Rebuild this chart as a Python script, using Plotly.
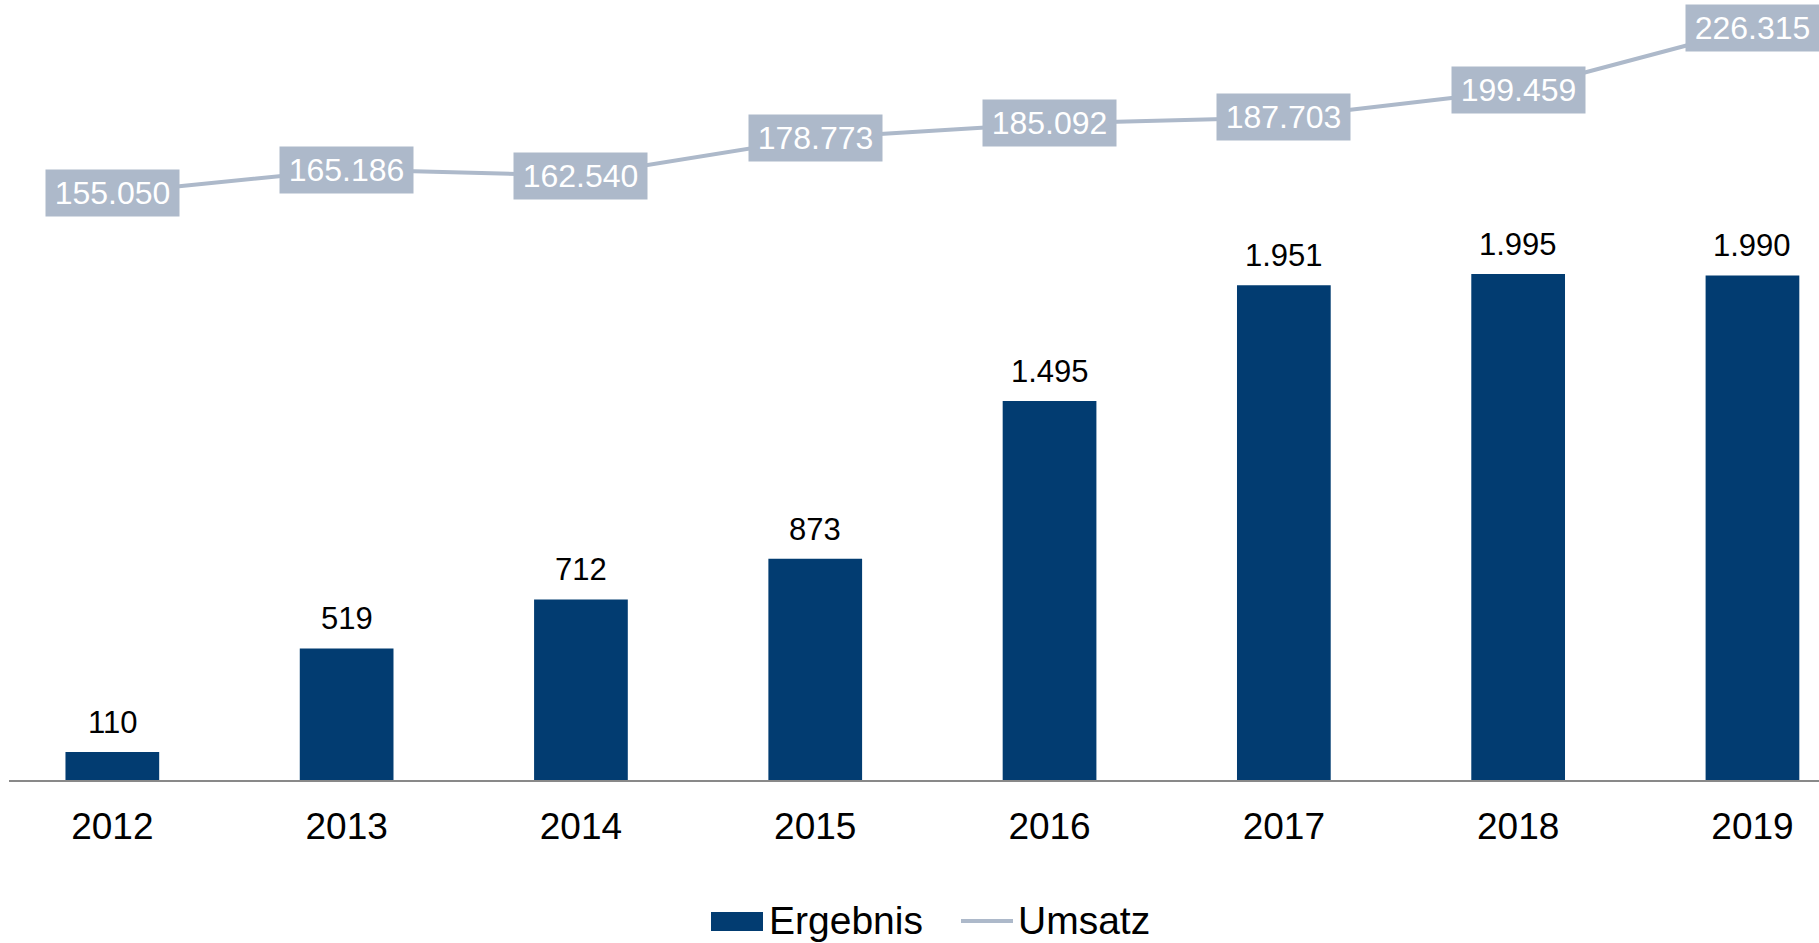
import plotly.graph_objects as go

years = ["2012", "2013", "2014", "2015", "2016", "2017", "2018", "2019"]
ergebnis = [110, 519, 712, 873, 1495, 1951, 1995, 1990]
umsatz = [155050, 165186, 162540, 178773, 185092, 187703, 199459, 226315]

def fmt_de(v):
    return f"{v:,}".replace(",", ".")

BAR_COLOR = "#023C71"
LINE_COLOR = "#ADB9CA"
FONT = "Liberation Sans, Arial, sans-serif"

W, H = 1819, 943
L, R, T, B = 9, 0, 0, 163
PW, PH = W - L - R, H - T - B

fig = go.Figure()
fig.add_trace(go.Bar(
    x=years, y=ergebnis, name="Ergebnis", marker=dict(color=BAR_COLOR, line=dict(width=0)),
    width=0.4, showlegend=False, hoverinfo="x+y",
))
fig.add_trace(go.Scatter(
    x=years, y=umsatz, name="Umsatz", mode="lines", yaxis="y2",
    line=dict(color=LINE_COLOR, width=4), showlegend=False,
))

annotations = []
# category axis: annotations use category index
for i, v in enumerate(ergebnis):
    annotations.append(dict(
        x=i, y=v, xref="x", yref="y", text=fmt_de(v), showarrow=False,
        yanchor="bottom", xanchor="center", yshift=10,
        font=dict(family=FONT, size=31, color="#000000"),
    ))
for i, v in enumerate(umsatz):
    annotations.append(dict(
        x=i, y=v, xref="x", yref="y2", text=fmt_de(v), showarrow=False,
        yanchor="middle", xanchor="center", bgcolor=LINE_COLOR,
        width=133, height=46, borderpad=0, valign="middle", align="center",
        font=dict(family=FONT, size=32, color="#FFFFFF"),
    ))

def px_to_paper_x(px):
    return (px - L) / PW

def px_to_paper_y(py):
    return (H - B - py) / PH

# custom legend
shapes = [
    dict(type="rect", xref="paper", yref="paper",
         x0=px_to_paper_x(711), x1=px_to_paper_x(763),
         y0=px_to_paper_y(931), y1=px_to_paper_y(912),
         fillcolor=BAR_COLOR, line=dict(width=0)),
    dict(type="line", xref="paper", yref="paper",
         x0=px_to_paper_x(961), x1=px_to_paper_x(1013),
         y0=px_to_paper_y(921), y1=px_to_paper_y(921),
         line=dict(color=LINE_COLOR, width=4)),
]
annotations.append(dict(
    x=px_to_paper_x(767), y=px_to_paper_y(920), xref="paper", yref="paper",
    text="Ergebnis", showarrow=False, xanchor="left", yanchor="middle",
    font=dict(family=FONT, size=39, color="#000000"),
))
annotations.append(dict(
    x=px_to_paper_x(1016), y=px_to_paper_y(920), xref="paper", yref="paper",
    text="Umsatz", showarrow=False, xanchor="left", yanchor="middle",
    font=dict(family=FONT, size=39, color="#000000"),
))

fig.update_layout(
    width=W, height=H, autosize=False,
    margin=dict(l=L, r=R, t=T, b=B, pad=0),
    paper_bgcolor="#FFFFFF", plot_bgcolor="#FFFFFF",
    font=dict(family=FONT, color="#000000"),
    bargap=0.6,
    xaxis=dict(
        type="category", range=[-0.441, 7.284], showgrid=False, zeroline=False,
        showline=True, linecolor="#898989", linewidth=2,
        ticks="", tickfont=dict(family=FONT, size=37, color="#000000"),
        ticklabelstandoff=13,
    ),
    yaxis=dict(range=[0, 3076], visible=False, showgrid=False, zeroline=False),
    yaxis2=dict(range=[-98481, 238409], overlaying="y", side="right",
                visible=False, showgrid=False, zeroline=False),
    annotations=annotations,
    shapes=shapes,
)

fig.write_html(
    "out.html",
    config={"displayModeBar": False},
    post_script="document.body.style.margin='0';document.body.style.overflow='hidden';",
)
